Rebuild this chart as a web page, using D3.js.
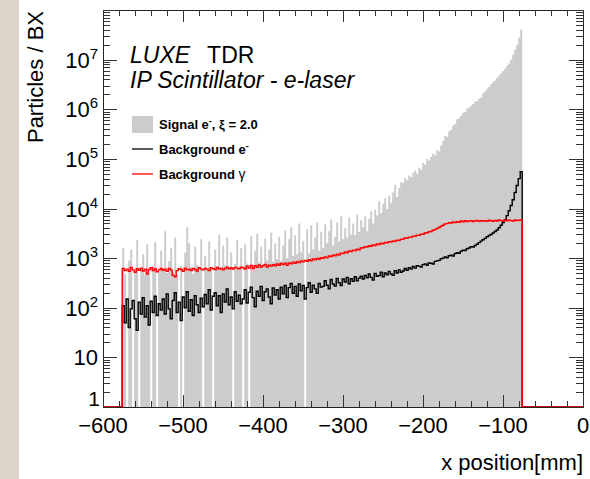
<!DOCTYPE html>
<html>
<head>
<meta charset="utf-8">
<script src="https://cdn.jsdelivr.net/npm/d3@7"></script>
<style>
  body { margin: 0; background: #fff; }
  svg { display: block; font-family: "Liberation Sans", Arial, Helvetica, sans-serif; }
</style>
</head>
<body>
<div id="container"></div>
<script>
// histogram binning in mm
let binLow = -576;
let binWidth = 2.5;

// signal e-, xi = 2.0 (particles / BX per bin)
let signal = [
  1600, 480, 0, 900, 1500, 0, 520, 2300, 0, 610, 1200, 450, 1900, 560, 0, 700, 2100, 0, 540, 1400,
  620, 3500, 500, 880, 1600, 530, 2600, 470, 0, 700, 0, 1300, 4200, 2000, 650, 480, 1700, 720, 560, 2400,
  0, 1100, 640, 2200, 580, 0, 1500, 690, 3000, 610, 1800, 720, 2600, 650, 1300, 0, 760, 2300, 600, 1600,
  0, 1900, 780, 0, 2800, 700, 1400, 3100, 820, 1700, 760, 2500, 900, 1500, 3300, 850, 2000, 950, 2700, 880,
  1800, 3600, 1000, 2400, 4200, 1100, 2900, 1200, 5000, 1300, 2200, 0, 3800, 1250, 4600, 1500, 2600, 5200, 1400, 3400,
  1600, 4800, 2000, 3500, 6000, 1800, 2700, 5200, 2200, 7000, 2400, 4000, 2600, 6500, 3000, 5000, 2900, 7500, 3400, 5800,
  4200, 7000, 3500, 6200, 8800, 5000, 9500, 7200, 14000, 8000, 12500, 16000, 9800, 18000, 13000, 21000, 30000, 17000, 26000, 34000,
  33000, 41000, 37000, 46000, 43000, 52000, 58000, 50000, 66000, 61000, 83000, 76000, 100000, 92000, 110000, 128000, 118000, 150000, 140000, 185000,
  230000, 290000, 280000, 360000, 390000, 470000, 500000, 630000, 660000, 740000, 850000, 880000, 1020000, 1080000, 1180000, 1270000, 1420000, 1460000, 1620000, 1720000,
  2100000, 2300000, 2600000, 2800000, 3200000, 3500000, 3800000, 4300000, 4800000, 5300000, 5900000, 6600000, 7600000, 8400000, 10000000, 12500000, 16000000, 20000000, 28000000, 40000000
];

// background e-
let bkgElectron = [
  110, 50, 150, 40, 95, 140, 60, 35, 130, 75, 160, 65, 110, 45, 135, 80, 170, 70, 120, 90,
  150, 75, 190, 95, 60, 140, 200, 80, 130, 55, 165, 100, 210, 85, 145, 70, 175, 115, 80, 155,
  105, 185, 120, 230, 90, 170, 200, 110, 175, 80, 190, 130, 240, 115, 165, 95, 210, 135, 180, 120,
  150, 230, 125, 205, 260, 160, 105, 215, 170, 270, 140, 210, 240, 165, 120, 250, 180, 230, 150, 260,
  190, 280, 160, 255, 310, 195, 270, 170, 300, 220, 280, 150, 255, 320, 205, 285, 240, 195, 310, 260,
  270, 350, 285, 240, 370, 300, 275, 390, 320, 280, 380, 330, 410, 305, 385, 340, 420, 350, 395, 430,
  380, 450, 400, 480, 410, 360, 490, 430, 445, 520, 420, 500, 460, 540, 480, 450, 560, 500, 580, 520,
  550, 620, 570, 640, 600, 680, 630, 700, 690, 660, 740, 760, 720, 800, 790, 760, 860, 880, 900, 970,
  1000, 1050, 1020, 1120, 1150, 1100, 1230, 1280, 1250, 1380, 1450, 1420, 1550, 1600, 1700, 1680, 1800, 1900, 2050, 2200,
  2350, 2500, 2700, 2850, 3000, 3200, 3450, 3700, 4100, 4600, 5200, 5900, 7200, 9000, 11500, 15000, 21000, 29000, 40000, 55000
];

// background gamma
let bkgPhoton = [
  620, 560, 600, 540, 650, 580, 520, 610, 570, 630, 550, 600, 480, 590, 640, 560, 610, 530, 580, 620,
  570, 600, 540, 620, 580, 450, 420, 560, 610, 590, 540, 630, 580, 600, 560, 620, 590, 550, 640, 600,
  580, 620, 600, 560, 640, 610, 590, 650, 600, 630, 580, 620, 660, 610, 640, 600, 650, 630, 610, 660,
  640, 600, 690, 630, 710, 620, 700, 650, 730, 660, 700, 750, 660, 720, 690, 740, 700, 760, 720, 780,
  740, 790, 720, 800, 770, 830, 790, 850, 810, 880, 840, 900, 860, 930, 880, 960, 920, 990, 950, 1020,
  990, 1060, 1010, 1100, 1070, 1140, 1120, 1200, 1150, 1260, 1230, 1330, 1280, 1390, 1350, 1450, 1420, 1520, 1480, 1600,
  1620, 1700, 1680, 1780, 1740, 1850, 1800, 1920, 1880, 1990, 1950, 2080, 2030, 2150, 2100, 2220, 2180, 2300, 2260, 2400,
  2420, 2550, 2500, 2650, 2620, 2780, 2750, 2900, 2880, 3050, 3020, 3200, 3250, 3400, 3450, 3650, 3750, 3950, 4150, 4400,
  4600, 4900, 4950, 5200, 5100, 5350, 5200, 5450, 5300, 5600, 5400, 5650, 5450, 5600, 5700, 5450, 5650, 5750, 5500, 5700,
  5600, 5700, 5500, 5800, 5650, 5550, 5750, 5600, 5850, 5700, 5550, 5800, 5650, 5900, 5700, 5600, 5850, 5750, 5800, 5900
];

let xMajorTicks = [-600, -500, -400, -300, -200, -100, 0];
let yDecades = [1, 10, 1e2, 1e3, 1e4, 1e5, 1e6, 1e7, 1e8];
let yLabelExponents = [0, 1, 2, 3, 4, 5, 6, 7];

let legendNames = ["Signal", "Background", "Background"];

let w = 590;
let h = 479;
let padLeft = 103, padRight = 583, padTop = 10, padBottom = 407;

let viz = d3.select("#container")
  .append("svg")
    .attr("width", w)
    .attr("height", h)
;

// beige strip on the left edge of the original picture
viz.append("rect").attr("x", 0).attr("y", 0).attr("width", 19).attr("height", h).attr("fill", "#dcd4c9");

let xScale = d3.scaleLinear().domain([-600, 0]).range([padLeft, padRight]);
let yScale = d3.scaleLog().domain([1, 1e8]).range([padBottom, padTop]);

function yv(v){
  return yScale(Math.max(v, 1));
}

function toBins(values){
  let pts = values.map(function(v, i){
    return { x: binLow + i * binWidth, v: v };
  });
  pts.push({ x: binLow + values.length * binWidth, v: values[values.length - 1] });
  return pts;
}

// signal: filled gray histogram
let sigArea = d3.area()
  .x(function(d){ return xScale(d.x); })
  .y0(yScale(1))
  .y1(function(d){ return yv(d.v); })
  .curve(d3.curveStepAfter);

viz.append("path")
  .datum(toBins(signal))
  .attr("d", sigArea)
  .attr("fill", "#cccccc")
  .attr("stroke", "none");

function lineBins(values){
  let pts = [{ x: -600, v: 0 }];
  values.forEach(function(v, i){
    pts.push({ x: binLow + i * binWidth, v: v });
  });
  pts.push({ x: binLow + values.length * binWidth, v: 0 });
  pts.push({ x: 0, v: 0 });
  return pts;
}

let histLine = d3.line()
  .x(function(d){ return xScale(d.x); })
  .y(function(d){ return yv(d.v); })
  .curve(d3.curveStepAfter);

viz.append("path")
  .datum(lineBins(bkgElectron))
  .attr("d", histLine)
  .attr("fill", "none")
  .attr("stroke", "#000")
  .attr("stroke-width", 1.4);

viz.append("path")
  .datum(lineBins(bkgPhoton))
  .attr("d", histLine)
  .attr("fill", "none")
  .attr("stroke", "#ff0000")
  .attr("stroke-width", 1.4);

// frame
viz.append("rect")
  .attr("x", padLeft + 0.5).attr("y", padTop + 0.5)
  .attr("width", padRight - padLeft).attr("height", padBottom - padTop)
  .attr("fill", "none").attr("stroke", "#222").attr("stroke-width", 1);

let tickGroup = viz.append("g").attr("stroke", "#333").attr("stroke-width", 1);

// x ticks (bottom and top)
let xMinor = d3.range(-600, 1, 20);
xMinor.forEach(function(t){
  let px = Math.round(xScale(t)) + 0.5;
  let len = (t % 100 === 0) ? 12 : 6;
  tickGroup.append("line").attr("x1", px).attr("x2", px).attr("y1", padBottom).attr("y2", padBottom - len);
  tickGroup.append("line").attr("x1", px).attr("x2", px).attr("y1", padTop).attr("y2", padTop + len);
});

// y ticks (left and right), log minor ticks
yDecades.forEach(function(d){
  let py = Math.round(yScale(d)) + 0.5;
  tickGroup.append("line").attr("x1", padLeft).attr("x2", padLeft + 14).attr("y1", py).attr("y2", py);
  tickGroup.append("line").attr("x1", padRight).attr("x2", padRight - 14).attr("y1", py).attr("y2", py);
  if (d < 1e8) {
    for (let k = 2; k < 10; k++) {
      let my = Math.round(yScale(d * k)) + 0.5;
      tickGroup.append("line").attr("x1", padLeft).attr("x2", padLeft + 7).attr("y1", my).attr("y2", my);
      tickGroup.append("line").attr("x1", padRight).attr("x2", padRight - 7).attr("y1", my).attr("y2", my);
    }
  }
});

// x tick labels
let fmt = d3.format("d");
xMajorTicks.forEach(function(t){
  viz.append("text")
    .attr("x", xScale(t))
    .attr("y", 433)
    .attr("text-anchor", "middle")
    .attr("font-size", 22)
    .attr("fill", "#000")
    .text(fmt(t));
});

// y tick labels
yLabelExponents.forEach(function(e){
  let ty = yScale(Math.pow(10, e));
  let label = viz.append("text")
    .attr("x", 98)
    .attr("y", ty + 8)
    .attr("text-anchor", "end")
    .attr("font-size", 22)
    .attr("fill", "#000");
  if (e === 0) {
    label.attr("y", 406).attr("x", 100).attr("font-size", 21).text("1");
  } else if (e === 1) {
    label.text("10");
  } else {
    label.append("tspan").text("10");
    label.append("tspan").attr("dy", -9).attr("font-size", 15).text(e);
  }
});

// axis titles
viz.append("text")
  .attr("transform", "translate(43, 11) rotate(-90)")
  .attr("text-anchor", "end")
  .attr("font-size", 22)
  .attr("fill", "#000")
  .text("Particles / BX");

viz.append("text")
  .attr("x", 583)
  .attr("y", 470)
  .attr("text-anchor", "end")
  .attr("font-size", 22)
  .attr("fill", "#000")
  .text("x position[mm]");

// title
let t1 = viz.append("text").attr("x", 130).attr("y", 63).attr("font-size", 23).attr("fill", "#000");
t1.append("tspan").attr("font-style", "italic").text("LUXE");
t1.append("tspan").attr("dx", 17).text("TDR");

viz.append("text")
  .attr("x", 130).attr("y", 88)
  .attr("font-size", 23)
  .attr("font-style", "italic")
  .attr("fill", "#000")
  .text("IP Scintillator - e-laser");

// legend
let legend = viz.append("g").attr("font-size", 13).attr("font-weight", "bold");
let rowY = [124, 149, 174];

legend.append("rect").attr("x", 132).attr("y", rowY[0] - 8).attr("width", 21).attr("height", 17).attr("fill", "#cccccc");
legend.append("line").attr("x1", 132).attr("x2", 153).attr("y1", rowY[1]).attr("y2", rowY[1]).attr("stroke", "#000").attr("stroke-width", 1.3);
legend.append("line").attr("x1", 132).attr("x2", 153).attr("y1", rowY[2]).attr("y2", rowY[2]).attr("stroke", "#ff0000").attr("stroke-width", 1.3);

let l0 = legend.append("text").attr("x", 159).attr("y", rowY[0] + 5);
l0.append("tspan").text(legendNames[0] + " e");
l0.append("tspan").attr("dy", -5).attr("font-size", 9).text("-");
l0.append("tspan").attr("dy", 5).text(", ξ = 2.0");

let l1 = legend.append("text").attr("x", 159).attr("y", rowY[1] + 5);
l1.append("tspan").text(legendNames[1] + " e");
l1.append("tspan").attr("dy", -5).attr("font-size", 9).text("-");

let l2 = legend.append("text").attr("x", 159).attr("y", rowY[2] + 5);
l2.append("tspan").text(legendNames[2] + " ");
l2.append("tspan").attr("font-weight", "normal").attr("font-size", 14).text("γ");
</script>
</body>
</html>
